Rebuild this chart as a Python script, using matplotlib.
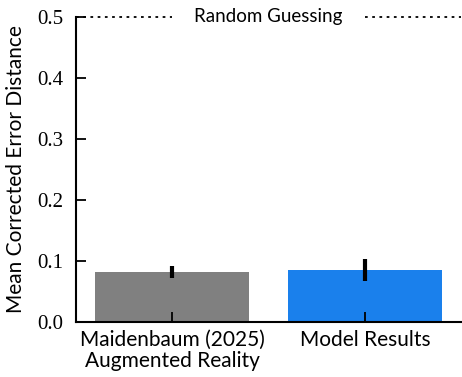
import matplotlib
matplotlib.use("Agg")
import matplotlib.pyplot as plt

# Data
categories = ["Maidenbaum (2025)\nAugmented Reality", "Model Results"]
means = [0.082, 0.085]
errors = [0.0095, 0.018]
colors = ["#808080", "#1a80ec"]
chance = 0.5

plt.rcParams['font.family'] = ['Lato', 'DejaVu Sans']

fig = plt.figure(figsize=(4.62, 3.77), dpi=100)
ax = fig.add_axes([0.165, 0.146, 0.833, 0.809])

x = range(len(categories))
ax.bar(x, means, width=0.8, color=colors, yerr=errors,
       error_kw=dict(ecolor='black', elinewidth=3, capsize=0))

# chance line, broken around the label
ax.hlines(chance, -0.5, 0.0, color='black', linestyle=(0, (1.5, 2.5)),
          linewidth=1.3, clip_on=False)
ax.hlines(chance, 1.0, 1.5, color='black', linestyle=(0, (1.5, 2.5)),
          linewidth=1.3, clip_on=False)
ax.text(0.5, chance, "Random Guessing", ha='center', va='center',
        fontsize=13.5)

ax.set_xlim(-0.5, 1.5)
ax.set_ylim(0, 0.5)
ax.set_xticks(list(x))
ax.set_xticklabels(categories, fontsize=15, linespacing=1.05)
ax.set_yticks([0.0, 0.1, 0.2, 0.3, 0.4, 0.5])
ax.set_yticklabels(["0.0", "0.1", "0.2", "0.3", "0.4", "0.5"],
                   family=['Liberation Serif'], fontsize=15)
ax.set_ylabel("Mean Corrected Error Distance", fontsize=15, labelpad=8)

ax.tick_params(direction='in', length=7, width=1.3, colors='black')
ax.tick_params(axis='y', pad=9)
ax.tick_params(axis='x', pad=6)
for s in ['top', 'right']:
    ax.spines[s].set_visible(False)
for s in ['left', 'bottom']:
    ax.spines[s].set_linewidth(1.5)

fig.savefig("out.png", dpi=100)
